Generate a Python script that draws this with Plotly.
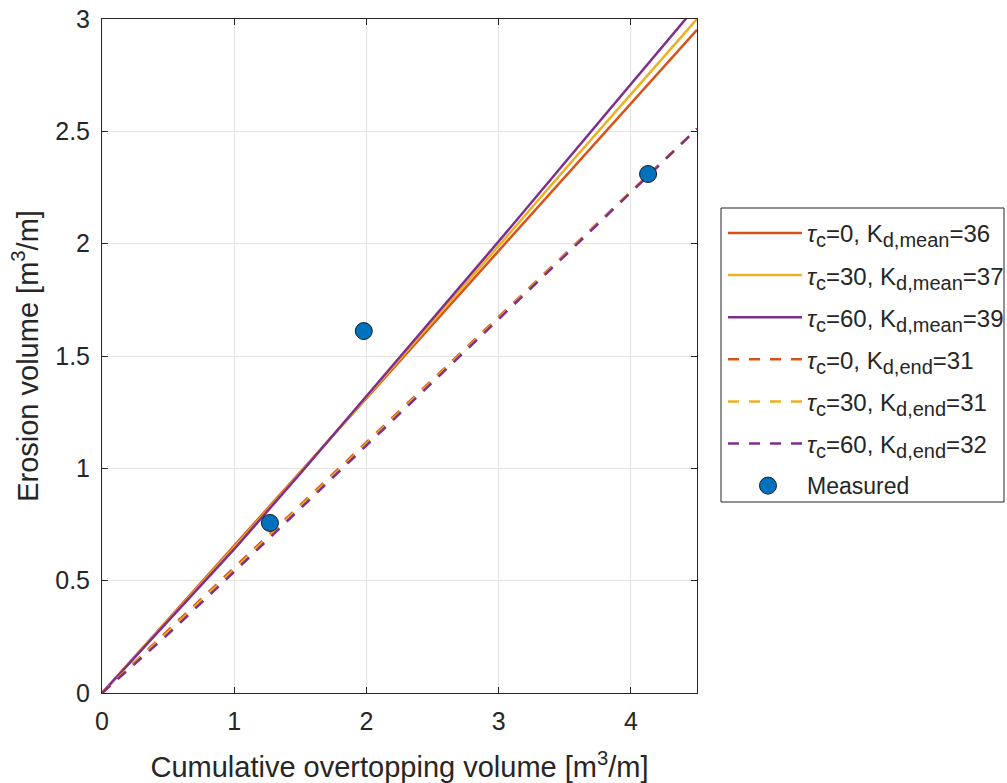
import plotly.graph_objects as go

# Model curves: erosion volume vs cumulative overtopping volume
x_model = [0, 0.5, 1, 1.5, 2, 2.5, 3, 3.5, 4, 4.5]

ero_mean_tc0 = [0, 0.328, 0.656, 0.984, 1.312, 1.64, 1.968, 2.296, 2.624, 2.952]
ero_mean_tc30 = [0, 0.323, 0.648, 0.98, 1.315, 1.65, 1.99, 2.33, 2.665, 3.0]
ero_mean_tc60 = [0, 0.318, 0.64, 0.977, 1.32, 1.665, 2.01, 2.36, 2.71, 3.06]

ero_end_tc0 = [0, 0.279, 0.558, 0.837, 1.116, 1.395, 1.674, 1.953, 2.232, 2.511]
ero_end_tc30 = [0, 0.272, 0.55, 0.829, 1.109, 1.389, 1.669, 1.95, 2.23, 2.511]
ero_end_tc60 = [0, 0.262, 0.54, 0.82, 1.101, 1.382, 1.664, 1.946, 2.228, 2.511]

# Measured points
meas_x = [1.27, 1.98, 4.13]
meas_y = [0.757, 1.611, 2.31]

SUB = '<sub><span style="font-size:20px">{}</span></sub>'
labels = [
    "<i>τ</i>" + SUB.format("c") + "=0, K" + SUB.format("d,mean") + "=36",
    "<i>τ</i>" + SUB.format("c") + "=30, K" + SUB.format("d,mean") + "=37",
    "<i>τ</i>" + SUB.format("c") + "=60, K" + SUB.format("d,mean") + "=39",
    "<i>τ</i>" + SUB.format("c") + "=0, K" + SUB.format("d,end") + "=31",
    "<i>τ</i>" + SUB.format("c") + "=30, K" + SUB.format("d,end") + "=31",
    "<i>τ</i>" + SUB.format("c") + "=60, K" + SUB.format("d,end") + "=32",
    "Measured",
]

ORANGE = "#D95319"
YELLOW = "#EDB120"
PURPLE = "#7E2F8E"
BLUE = "#0072BD"
INK = "#262626"
DASH = "11px,10px"
FONT = "Liberation Sans, Arial, sans-serif"

series = [
    (ero_mean_tc0, ORANGE, "solid"),
    (ero_mean_tc30, YELLOW, "solid"),
    (ero_mean_tc60, PURPLE, "solid"),
    (ero_end_tc0, ORANGE, DASH),
    (ero_end_tc30, YELLOW, DASH),
    (ero_end_tc60, PURPLE, DASH),
]

W, H = 1007, 783
L, R, T, B = 102, 697, 19, 693  # plot-area edges in pixels

fig = go.Figure()
for (ys, color, dash), name in zip(series, labels):
    fig.add_trace(go.Scatter(x=x_model, y=ys, mode="lines", name=name,
                             line=dict(color=color, width=2.5, dash=dash),
                             showlegend=False))
fig.add_trace(go.Scatter(x=meas_x, y=meas_y, mode="markers", name=labels[-1],
                         marker=dict(color=BLUE, size=17,
                                     line=dict(color="#1a1a1a", width=1)),
                         showlegend=False))


def px(x):
    return (x - L) / (R - L)


def py(y):
    return (B - y) / (B - T)


# Legend box drawn in paper coordinates
shapes = [dict(type="rect", xref="paper", yref="paper",
               x0=px(721), x1=px(1004), y0=py(208), y1=py(502),
               line=dict(color=INK, width=1), fillcolor="white", layer="above")]
annotations = []
row0, step = 233, 42.1
for i, ((ys, color, dash), name) in enumerate(zip(series, labels)):
    yy = row0 + i * step
    shapes.append(dict(type="line", xref="paper", yref="paper",
                       x0=px(728), x1=px(802), y0=py(yy), y1=py(yy),
                       line=dict(color=color, width=2.5, dash=dash), layer="above"))
    annotations.append(dict(xref="paper", yref="paper", x=px(805), y=py(yy + 3),
                            text=name, showarrow=False, xanchor="left",
                            yanchor="middle", font=dict(size=24, color=INK, family=FONT)))
ym = row0 + 6 * step
shapes.append(dict(type="circle", xref="paper", yref="paper",
                   x0=px(759.5), x1=px(776.5), y0=py(ym - 8.5), y1=py(ym + 8.5),
                   line=dict(color="#1a1a1a", width=1), fillcolor=BLUE, layer="above"))
annotations.append(dict(xref="paper", yref="paper", x=px(805), y=py(ym),
                        text=labels[-1], showarrow=False, xanchor="left",
                        yanchor="middle", font=dict(size=23, color=INK, family=FONT)))

axis_common = dict(showgrid=True, gridcolor="#e3e3e3", gridwidth=1,
                   showline=True, linecolor=INK, linewidth=1, mirror="ticks",
                   ticks="inside", ticklen=6, tickcolor=INK, zeroline=False,
                   automargin=False, ticklabelstandoff=6,
                   tickfont=dict(size=25, color=INK, family=FONT))

fig.update_layout(
    width=W, height=H,
    margin=dict(l=L, r=W - R, t=T, b=H - B),
    paper_bgcolor="white", plot_bgcolor="white",
    font=dict(family=FONT, color=INK),
    xaxis=dict(range=[0, 4.5], tickvals=[0, 1, 2, 3, 4],
               title=dict(text="Cumulative overtopping volume [m<sup>3</sup>/m]",
                          font=dict(size=29, color=INK, family=FONT), standoff=30),
               **axis_common),
    yaxis=dict(range=[0, 3], tickvals=[0, 0.5, 1, 1.5, 2, 2.5, 3],
               ticktext=["0", "0.5", "1", "1.5", "2", "2.5", "3"],
               title=dict(text="Erosion volume [m<sup>3</sup>/m]",
                          font=dict(size=29, color=INK, family=FONT), standoff=8),
               **axis_common),
    shapes=shapes,
    annotations=annotations,
    showlegend=False,
)

fig.write_html("out.html")
